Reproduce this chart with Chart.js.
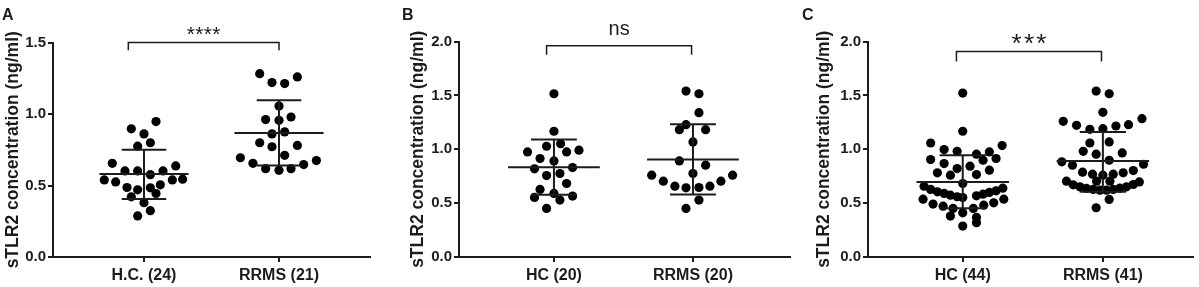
<!DOCTYPE html>
<html>
<head>
<meta charset="utf-8">
<script src="https://cdn.jsdelivr.net/npm/chart.js@4.4.1/dist/chart.umd.min.js"></script>
<style>
    html, body { margin: 0; padding: 0; background: #fff; }
    .panel { position: absolute; top: 0; height: 287px; }
</style>
</head>
<body>
<div class="panel" style="left:0;width:400px"><canvas id="chartA" width="400" height="287"></canvas></div>
<div class="panel" style="left:400px;width:400px"><canvas id="chartB" width="400" height="287"></canvas></div>
<div class="panel" style="left:800px;width:399px"><canvas id="chartC" width="399" height="287"></canvas></div>
<script>
// ---- Panel A ----
const labelsA = ['H.C. (24)', 'RRMS (21)'];
const hcA = [0.947, 0.896, 0.861, 0.799, 0.775, 0.655, 0.637, 0.602, 0.602, 0.576, 0.602, 0.539,
             0.525, 0.539, 0.544, 0.486, 0.470, 0.484, 0.505, 0.444, 0.421, 0.380, 0.324, 0.287];
const hcAJitter = [0.089, -0.094, 0, 0.047, -0.047, -0.235, 0.235, -0.141, -0.047, 0.047, 0.141, -0.294,
                   -0.21, 0.21, 0.286, -0.126, -0.047, 0.047, 0.121, 0.089, -0.094, 0, 0.047, -0.047];
const rrmsA = [1.282, 1.220, 1.213, 1.259, 1.056, 0.961, 0.956, 0.979, 0.861, 0.875, 0.799, 0.771,
               0.780, 0.711, 0.694, 0.655, 0.618, 0.606, 0.618, 0.646, 0.674];
const rrmsAJitter = [-0.143, -0.052, 0.042, 0.136, 0, -0.099, 0, 0.089, -0.052, 0.042, -0.143, -0.052,
                     0.136, 0.042, -0.286, -0.193, -0.099, 0, 0.089, 0.183, 0.277];
const meanA = [0.580, 0.867];
const sdHighA = [0.750, 1.096];
const sdLowA = [0.405, 0.640];
const sigA = '****';

// ---- Panel B ----
const labelsB = ['HC (20)', 'RRMS (20)'];
const hcB = [1.515, 1.167, 1.052, 1.028, 0.975, 0.975, 0.991, 0.914, 0.892, 0.818, 0.830, 0.756,
             0.775, 0.682, 0.627, 0.590, 0.553, 0.565, 0.528, 0.451];
const hcBJitter = [0, 0, 0.048, -0.053, -0.19, 0.091, 0.18, -0.1, 0, -0.14, 0.134, -0.053,
                   0.043, 0.091, -0.1, 0, -0.14, 0.134, 0.043, -0.053];
const rrmsB = [1.540, 1.515, 1.339, 1.228, 1.182, 1.182, 1.068, 0.892, 0.852, 0.775, 0.759, 0.759,
               0.704, 0.704, 0.657, 0.642, 0.645, 0.657, 0.528, 0.451];
const rrmsBJitter = [-0.05, 0.043, 0.043, -0.05, -0.098, 0.091, 0, -0.098, 0.091, 0, -0.297, 0.285,
                     -0.213, 0.201, -0.13, -0.05, 0.043, 0.122, 0.043, -0.05];
const meanB = [0.833, 0.904];
const sdHighB = [1.090, 1.231];
const sdLowB = [0.577, 0.580];
const sigB = 'ns';

// ---- Panel C ----
const labelsC = ['HC (44)', 'RRMS (41)'];
const hcC = [1.521, 1.167, 1.058, 1.034, 0.997, 0.981, 0.954, 0.975, 0.904, 0.898, 0.914, 0.867,
             0.843, 0.821, 0.781, 0.759, 0.765, 0.806, 0.682, 0.657, 0.627, 0.605, 0.590, 0.574,
             0.559, 0.552, 0.568, 0.583, 0.599, 0.614, 0.639, 0.537, 0.491, 0.472, 0.451, 0.410,
             0.451, 0.481, 0.503, 0.537, 0.380, 0.367, 0.287, 0.318];
const hcCJitter = [0, 0, -0.229, 0.281, -0.133, -0.04, 0.098, 0.19, -0.229, 0.145, 0.238, -0.133,
                   0.052, -0.04, -0.181, -0.088, 0.098, 0.19, 0, -0.276, -0.229, -0.181, -0.133, -0.088,
                   -0.04, 0, 0.098, 0.145, 0.19, 0.238, 0.286, -0.283, -0.212, -0.14, -0.069, 0,
                   0.076, 0.15, 0.221, 0.293, -0.088, 0.098, 0, 0.098];
const rrmsC = [1.540, 1.515, 1.343, 1.259, 1.222, 1.185, 1.191, 1.216, 1.228, 1.284, 1.058, 1.068,
               0.981, 0.954, 0.966, 0.898, 0.883, 0.852, 0.861, 0.787, 0.769, 0.759, 0.769, 0.781,
               0.802, 0.704, 0.704, 0.704, 0.670, 0.651, 0.636, 0.627, 0.620, 0.620, 0.627, 0.639,
               0.651, 0.673, 0.697, 0.534, 0.457];
const rrmsCJitter = [-0.048, 0.045, 0, -0.283, -0.188, -0.093, 0, 0.093, 0.183, 0.279, -0.093, 0.045,
                     -0.14, -0.048, 0.138, 0.045, -0.293, -0.217, 0.29, -0.145, -0.074, 0, 0.074, 0.145,
                     0.217, -0.045, 0.05, -0.26, -0.212, -0.164, -0.117, -0.069, -0.021, 0.026, 0.074, 0.121,
                     0.169, 0.217, 0.26, 0.045, -0.048];
const meanC = [0.695, 0.890];
const sdHighC = [0.945, 1.160];
const sdLowC = [0.453, 0.605];
const sigC = '***';

const FONT = '"Liberation Sans", Arial, sans-serif';
const INK = '#1c1c1c';
const MEAN_HALF = 0.33;   // half width of the mean line (category units)
const CAP_HALF = 0.165;   // half width of the SD caps

function dots(values, jitter, center) {
    return values.map((v, i) => ({ x: center + jitter[i], y: v }));
}

// mean line, SD caps and the vertical SD line for both groups, broken with nulls
function meanSdLines(means, highs, lows) {
    const pts = [];
    for (let i = 0; i < means.length; i++) {
        const c = i + 1;
        pts.push({ x: c - MEAN_HALF, y: means[i] }, { x: c + MEAN_HALF, y: means[i] }, { x: c, y: null });
        pts.push({ x: c - CAP_HALF, y: highs[i] }, { x: c + CAP_HALF, y: highs[i] }, { x: c, y: null });
        pts.push({ x: c - CAP_HALF, y: lows[i] }, { x: c + CAP_HALF, y: lows[i] }, { x: c, y: null });
        pts.push({ x: c, y: lows[i] }, { x: c, y: highs[i] }, { x: c, y: null });
    }
    return pts;
}

const annotatePlugin = {
    id: 'annotate',
    afterDraw(chart, args, opts) {
        const ctx = chart.ctx;
        const xs = chart.scales.x;
        const ys = chart.scales.y;
        ctx.save();
        ctx.fillStyle = INK;
        ctx.textBaseline = 'alphabetic';
        ctx.textAlign = 'left';
        ctx.font = 'bold 16px ' + FONT;
        ctx.fillText(opts.letter, 2, 20);

        // significance label centred over the bracket
        const b = opts.bracket;
        const cx = (xs.getPixelForValue(b[0]) + xs.getPixelForValue(b[1])) / 2;
        const base = ys.getPixelForValue(b[2]) - opts.lift;
        ctx.font = opts.sigSize + 'px ' + FONT;
        ctx.textAlign = 'center';
        const chars = opts.text.split('');
        if (opts.step) {
            chars.forEach((ch, i) => {
                ctx.fillText(ch, cx + (i - (chars.length - 1) / 2) * opts.step, base);
            });
        } else {
            ctx.fillText(opts.text, cx, base);
        }
        ctx.restore();
    }
};

function makePanel(id, p) {
    const bracketData = [
        { x: p.bracket[0], y: p.bracket[3] },
        { x: p.bracket[0], y: p.bracket[2] },
        { x: p.bracket[1], y: p.bracket[2] },
        { x: p.bracket[1], y: p.bracket[3] }
    ];
    const data = {
        datasets: [
            {
                data: meanSdLines(p.means, p.highs, p.lows),
                showLine: true, spanGaps: false, pointRadius: 0,
                borderColor: INK, borderWidth: 2, borderCapStyle: 'butt',
                clip: false, order: 0
            },
            {
                data: bracketData,
                showLine: true, pointRadius: 0,
                borderColor: INK, borderWidth: 1.5, clip: false, order: 0
            },
            {
                data: dots(p.hc, p.hcJitter, 1),
                pointRadius: 4.6, pointBackgroundColor: '#000', pointBorderWidth: 0,
                clip: false, order: 1
            },
            {
                data: dots(p.rrms, p.rrmsJitter, 2),
                pointRadius: 4.6, pointBackgroundColor: '#000', pointBorderWidth: 0,
                clip: false, order: 1
            }
        ]
    };

    const options = {
        responsive: false,
        animation: false,
        layout: { padding: { left: 0, right: p.padRight, top: p.padTop, bottom: 0 } },
        plugins: {
            legend: { display: false },
            tooltip: { enabled: false },
            annotate: {
                letter: p.letter, text: p.sig, bracket: p.bracket,
                sigSize: p.sigSize, step: p.sigStep, lift: p.sigLift
            }
        },
        scales: {
            x: {
                type: 'linear',
                min: p.xMin, max: p.xMax,
                afterBuildTicks: (scale) => { scale.ticks = [{ value: 1 }, { value: 2 }]; },
                afterFit: (scale) => { scale.height = 30; },
                ticks: {
                    callback: (v) => p.labels[v - 1],
                    color: INK, padding: 4, maxRotation: 0, autoSkip: false,
                    font: { family: FONT, size: 16, weight: 'bold' }
                },
                grid: { drawOnChartArea: false, drawTicks: true, tickLength: 5, color: INK, lineWidth: 2 },
                border: { color: INK, width: 2 }
            },
            y: {
                min: 0, max: p.yMax,
                afterFit: (scale) => { scale.width = p.axisLeft; },
                ticks: {
                    stepSize: 0.5,
                    callback: (v) => v.toFixed(1),
                    color: INK, padding: 2,
                    font: { family: FONT, size: 15, weight: 'bold' }
                },
                title: {
                    display: true,
                    text: 'sTLR2 concentration (ng/ml)',
                    color: INK,
                    padding: { top: p.titlePad, bottom: 0 },
                    font: { family: FONT, size: 17.5, weight: 'bold' }
                },
                grid: { drawOnChartArea: false, drawTicks: true, tickLength: 5, color: INK, lineWidth: 2 },
                border: { color: INK, width: 2 }
            }
        }
    };

    const ctx = document.getElementById(id).getContext('2d');
    return new Chart(ctx, { type: 'scatter', data: data, options: options, plugins: [annotatePlugin] });
}

makePanel('chartA', {
    letter: 'A', labels: labelsA, hc: hcA, hcJitter: hcAJitter, rrms: rrmsA, rrmsJitter: rrmsAJitter,
    means: meanA, highs: sdHighA, lows: sdLowA, sig: sigA,
    bracket: [0.884, 2.0, 1.5, 1.446], sigSize: 21, sigStep: 8.5, sigLift: 1.5,
    yMax: 1.5, xMin: 0.326, xMax: 2.674, axisLeft: 53, padRight: 30, padTop: 42.5, titlePad: 3
});

makePanel('chartB', {
    letter: 'B', labels: labelsB, hc: hcB, hcJitter: hcBJitter, rrms: rrmsB, rrmsJitter: rrmsBJitter,
    means: meanB, highs: sdHighB, lows: sdLowB, sig: sigB,
    bracket: [0.947, 1.99, 1.96, 1.876], sigSize: 20, sigStep: 0, sigLift: 11,
    yMax: 2.0, xMin: 0.317, xMax: 2.698, axisLeft: 59, padRight: 10, padTop: 41.5, titlePad: 8
});

makePanel('chartC', {
    letter: 'C', labels: labelsC, hc: hcC, hcJitter: hcCJitter, rrms: rrmsC, rrmsJitter: rrmsCJitter,
    means: meanC, highs: sdHighC, lows: sdLowC, sig: sigC,
    bracket: [0.955, 1.99, 1.907, 1.814], sigSize: 26, sigStep: 12.4, sigLift: 0,
    yMax: 2.0, xMin: 0.324, xMax: 2.643, axisLeft: 68, padRight: 6, padTop: 41.5, titlePad: 14
});
</script>
</body>
</html>
